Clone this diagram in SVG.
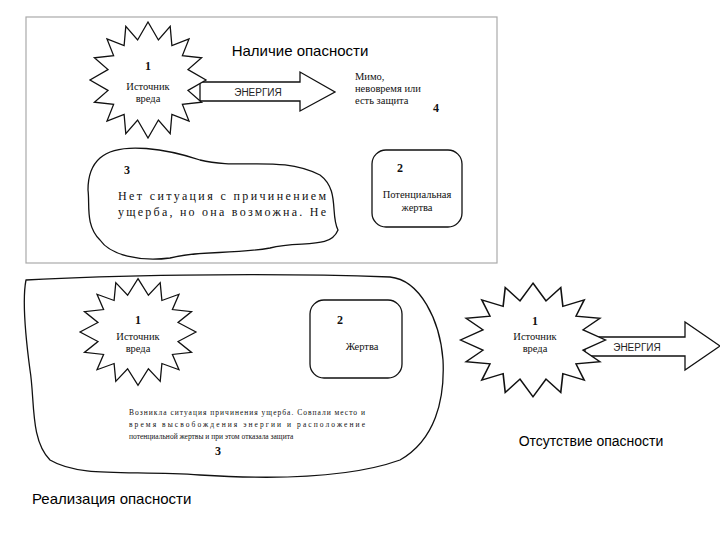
<svg xmlns="http://www.w3.org/2000/svg" width="720" height="540" viewBox="0 0 720 540">
<defs>
<style>
.s{fill:#fff;stroke:#111;stroke-width:1.3}
.t{font-family:"Liberation Serif",serif;font-size:10.5px;fill:#111}
.n{font-family:"Liberation Serif",serif;font-size:12px;font-weight:bold;fill:#111}
.h{font-family:"Liberation Sans",sans-serif;font-size:15px;fill:#000}
.e{font-family:"Liberation Sans",sans-serif;font-size:10px;fill:#222}
</style>
<polygon id="star" class="s" points="0,-58 10.4,-40 22.2,-53.6 23.9,-34.3 41,-41 34.4,-24.4 53.6,-22.2 40,-10.4 58,0 40,10.4 53.6,22.2 34.4,24.4 41,41 23.9,34.3 22.2,53.6 10.4,40 0,58 -10.4,40 -22.2,53.6 -23.9,34.3 -41,41 -34.4,24.4 -53.6,22.2 -40,10.4 -58,0 -40,-10.4 -53.6,-22.2 -34.4,-24.4 -41,-41 -23.9,-34.3 -22.2,-53.6 -10.4,-40"/>
</defs>
<rect width="720" height="540" fill="#fff"/>
<rect x="26" y="17" width="471" height="246" fill="none" stroke="#aaa" stroke-width="1.2"/>
<g id="connectors">
<polygon class="s" points="200,82 300,82 300,72 335,92 300,111 300,101 200,101"/>
<polygon class="s" points="178,330 290,330 290,318 308,338 290,358 290,347 178,347"/>
<polygon class="s" points="585,337 685,337 685,322 720,346 685,370 685,356 585,356"/>
</g>
<g id="top-source"><use href="#star" transform="translate(148,80)"/>
<text class="n" x="148" y="70" text-anchor="middle">1</text>
<text class="t" x="148" y="90" text-anchor="middle">Источник</text>
<text class="t" x="148" y="102" text-anchor="middle">вреда</text></g>
<text class="e" x="258" y="96" text-anchor="middle">ЭНЕРГИЯ</text>
<text class="e" x="230" y="342" text-anchor="middle">ЭНЕРГИЯ</text>
<text class="e" x="637" y="351" text-anchor="middle">ЭНЕРГИЯ</text>
<g id="note4"><text class="t" x="355" y="80">Мимо,</text>
<text class="t" x="355" y="92">невовремя   или</text>
<text class="t" x="355" y="104">есть защита</text>
<text class="n" x="433" y="112">4</text></g>
<g id="top-victim"><rect class="s" x="372" y="150" width="90" height="77" rx="14"/>
<text class="n" x="400" y="172" text-anchor="middle">2</text>
<text class="t" x="417" y="198" text-anchor="middle">Потенциальная</text>
<text class="t" x="417" y="211" text-anchor="middle">жертва</text></g>
<g id="top-situation"><path class="s" d="M100,158 C120,140 170,150 200,160 C240,170 280,155 320,175 C340,190 330,215 338,230 C330,250 300,240 270,248 C230,255 200,250 170,258 C140,262 110,255 100,240 C85,225 90,205 88,190 C88,175 92,165 100,158 Z"/>
<text class="n" x="124" y="174">3</text>
<text class="t" x="118" y="200" style="font-size:12px" textLength="208">Нет ситуация с причинением</text>
<text class="t" x="118" y="216" style="font-size:12px" textLength="208">ущерба, но она возможна. Не</text></g>
<g id="bottom-situation"><path class="s" d="M26,280 C100,276 250,272 390,277 C420,280 440,320 443,360 C445,400 435,440 400,460 C350,478 280,480 200,475 C130,470 80,478 50,460 C30,440 35,400 30,370 C26,340 22,300 26,280 Z"/>
<text class="t" x="129" y="415" style="font-size:7.5px" textLength="236">Возникла ситуация причинения ущерба. Совпали место и</text>
<text class="t" x="129" y="427" style="font-size:7.5px" textLength="236">время    высвобождения    энергии    и    расположение</text>
<text class="t" x="129" y="439" style="font-size:7.5px">потенциальной жертвы и при этом отказала защита</text>
<text class="n" x="218" y="455" text-anchor="middle">3</text></g>
<g id="bottom-source"><use href="#star" transform="translate(138,332) scale(1,0.92)"/>
<text class="n" x="138" y="324" text-anchor="middle">1</text>
<text class="t" x="138" y="340" text-anchor="middle">Источник</text>
<text class="t" x="138" y="352" text-anchor="middle">вреда</text></g>
<g id="bottom-victim"><rect class="s" x="310" y="300" width="92" height="78" rx="14"/>
<text class="n" x="340" y="324" text-anchor="middle">2</text>
<text class="t" x="362" y="350" text-anchor="middle">Жертва</text></g>
<g id="right-source"><use href="#star" transform="translate(533,340) scale(1.25,0.98)"/>
<text class="n" x="535" y="325" text-anchor="middle">1</text>
<text class="t" x="535" y="340" text-anchor="middle">Источник</text>
<text class="t" x="535" y="352" text-anchor="middle">вреда</text></g>
<text class="h" x="300" y="56" text-anchor="middle">Наличие опасности</text>
<text class="h" x="591" y="446" text-anchor="middle" style="font-size:14px">Отсутствие опасности</text>
<text class="h" x="32" y="504">Реализация опасности</text>
</svg>
